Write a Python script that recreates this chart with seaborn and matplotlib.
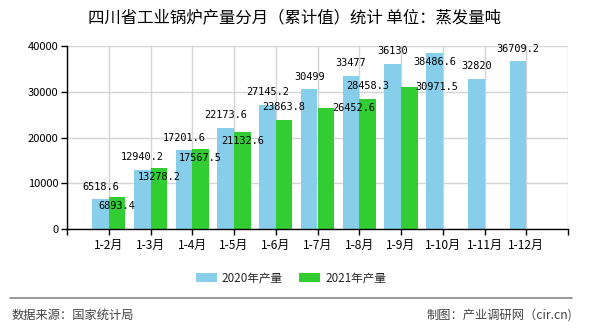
import numpy as np
import pandas as pd
import matplotlib
matplotlib.use("Agg")
import matplotlib.pyplot as plt
from matplotlib.patches import Patch
from matplotlib.lines import Line2D
import seaborn as sns

# ---------------- data ----------------
categories = ['1-2月', '1-3月', '1-4月', '1-5月', '1-6月', '1-7月',
              '1-8月', '1-9月', '1-10月', '1-11月', '1-12月']
series_names = ['2020年产量', '2021年产量']
values_2020 = [6518.6, 12940.2, 17201.6, 22173.6, 27145.2, 30499,
               33477, 36130, 38486.6, 32820, 36709.2]
values_2021 = [6893.4, 13278.2, 17567.5, 21132.6, 23863.8, 26452.6,
               28458.3, 30971.5]
y_ticks = [0, 10000, 20000, 30000, 40000]

# label placement (style): where each value label sits relative to its bar
place_2020 = ['top'] * 8 + ['in'] + ['top', 'top']
place_2021 = ['in', 'in', 'in', 'in', 'top', 'right', 'top', 'right']

title = '四川省工业锅炉产量分月（累计值）统计 单位：蒸发量吨'
source_text = '数据来源：国家统计局'
credit_text = '制图：产业调研网（cir.cn)'

colors = ['#87CEEB', '#32CD32']

# ---------------- build frame ----------------
rows = []
for c, v in zip(categories, values_2020):
    rows.append((c, v, series_names[0]))
for c, v in zip(categories, values_2021):
    rows.append((c, v, series_names[1]))
df = pd.DataFrame(rows, columns=['cat', 'val', 'series'])

sns.set_theme(style='white')
plt.rcParams['font.family'] = ['Noto Sans CJK SC', 'DejaVu Sans']

W, H = 590, 330
fig = plt.figure(figsize=(W / 100, H / 100), dpi=100)
L, R, T, B = 67, 568, 46, 229
ax = fig.add_axes([L / W, 1 - B / H, (R - L) / W, (B - T) / H])

sns.barplot(data=df, x='cat', y='val', hue='series', order=categories,
            hue_order=series_names, palette=colors, saturation=1,
            width=0.8, linewidth=0, edgecolor='none', ax=ax, legend=False,
            errorbar=None)

ax.set_xlim(-1, len(categories))
ax.set_ylim(0, 40000)
ax.set_yticks(y_ticks)
ax.set_yticklabels([str(t) for t in y_ticks], fontsize=8)
xt = list(range(-1, len(categories) + 1))
ax.set_xticks(xt)
ax.set_xticklabels([''] + categories + [''], fontsize=8.6)
ax.set_xlabel('')
ax.set_ylabel('')

# grid
ax.set_axisbelow(True)
ax.grid(True, color='#d4d4d4', linewidth=1)
for s in ['top', 'right']:
    ax.spines[s].set_visible(False)
for s in ['left', 'bottom']:
    ax.spines[s].set_color('black')
    ax.spines[s].set_linewidth(1)
ax.tick_params(axis='both', direction='out', length=4, width=1,
               color='black', labelcolor='black', pad=2,
               bottom=True, left=True)
ax.tick_params(axis='x', pad=3)

# value labels
offsets = {'top': (0, 9), 'in': (0, -6.5), 'right': (20, 0)}
for cont, vals, places in zip(ax.containers, [values_2020, values_2021],
                              [place_2020, place_2021]):
    for bar, v, p in zip(cont, vals, places):
        x = bar.get_x() + bar.get_width() / 2
        y = bar.get_height()
        txt = ('%g' % v) if float(v).is_integer() else ('%.1f' % v)
        ax.annotate(txt, (x, y), xytext=offsets[p], textcoords='offset points',
                    ha='center', va='center', fontsize=7.4,
                    family='DejaVu Sans Mono', color='black')

# title
fig.text(294 / W, 1 - 18 / H, title, ha='center', va='center',
         fontsize=11.8, color='black')

# legend
handles = [Patch(facecolor=c, edgecolor='none') for c in colors]
fig.legend(handles, series_names, loc='center', ncol=2, frameon=False,
           bbox_to_anchor=(291 / W, 1 - 278 / H), fontsize=8.4,
           handlelength=1.8, handleheight=0.8, handletextpad=0.45,
           columnspacing=1.4, borderpad=0)

# footer
fig.add_artist(Line2D([10 / W, 572 / W], [1 - 298 / H] * 2,
                      transform=fig.transFigure, color='#888888', lw=1.2))
fig.text(12 / W, 1 - 315 / H, source_text, ha='left', va='center',
         fontsize=8.8, color='#444444')
fig.text(572 / W, 1 - 315 / H, credit_text, ha='right', va='center',
         fontsize=8.8, color='#444444')

fig.savefig('out.png', dpi=100)
